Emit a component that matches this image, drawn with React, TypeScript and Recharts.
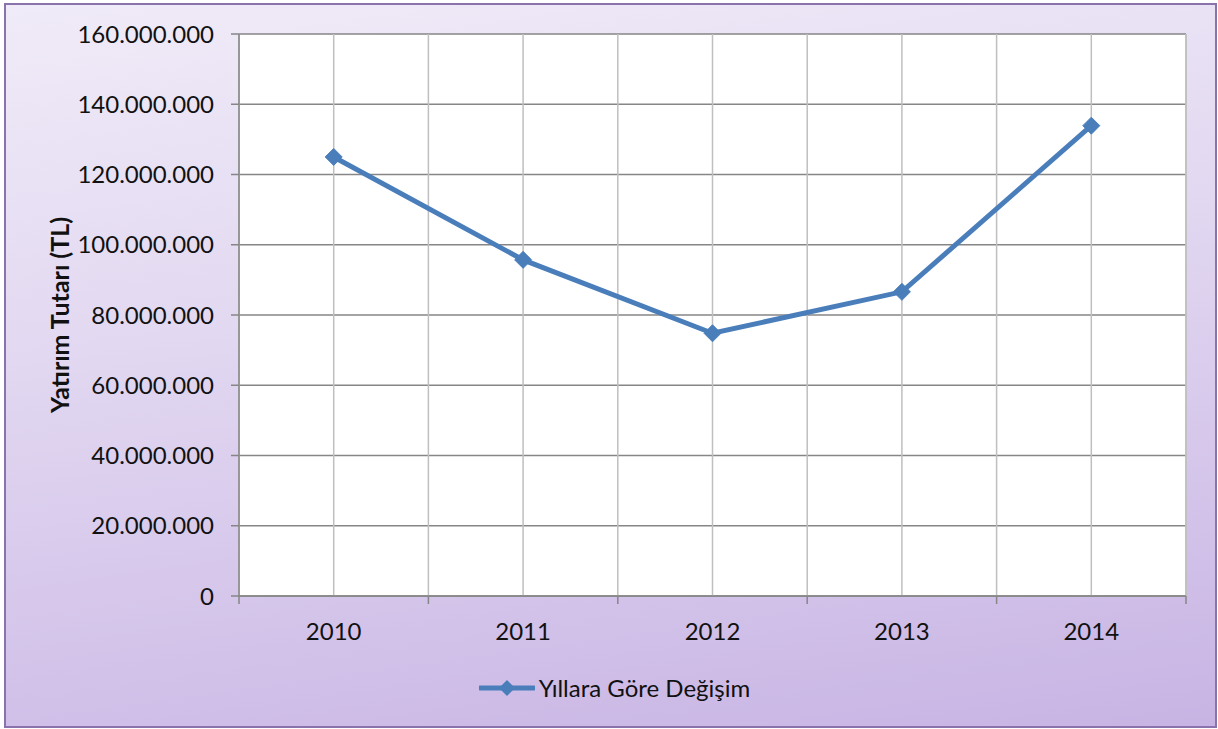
import React from 'react';
import { LineChart, Line, XAxis, YAxis, CartesianGrid, Legend } from 'recharts';

const years = ['2010', '2011', '2012', '2013', '2014'];
const values = [125000000, 95700000, 74800000, 86600000, 133900000];
const yTicks = [0, 20000000, 40000000, 60000000, 80000000, 100000000, 120000000, 140000000, 160000000];
const seriesName = 'Yıllara Göre Değişim';
const yAxisTitle = 'Yatırım Tutarı (TL)';

const data = years.map((y, i) => ({ year: y, value: values[i] }));

const fmt = (v: number) => String(v).replace(/\B(?=(\d{3})+(?!\d))/g, '.');

const FONT = 'Lato, "Open Sans", sans-serif';
const BLUE = '#4a7ebb';
const TEXT = '#111111';
const AXIS = '#868686';

const diamondPoints = (cx: number, cy: number, r: number) =>
  `${cx},${cy - r} ${cx + r},${cy} ${cx},${cy + r} ${cx - r},${cy}`;

const renderDot = (props: any) => {
  const { cx, cy, index } = props;
  if (cx == null || cy == null) return <g key={`d-${index}`} />;
  return <polygon key={`d-${index}`} points={diamondPoints(cx, cy, 8.5)} fill={BLUE} stroke={BLUE} strokeWidth={1} />;
};

const XTick = (props: any) => {
  const { x, y, payload, index, visibleTicksCount } = props;
  const half = payload && payload.offset ? payload.offset : 0;
  const axisY = y - 27;
  const last = index === (visibleTicksCount || years.length) - 1;
  return (
    <g>
      <line x1={x - half} y1={axisY} x2={x - half} y2={axisY + 8} stroke={AXIS} strokeWidth={1.5} />
      {last && <line x1={x + half} y1={axisY} x2={x + half} y2={axisY + 8} stroke={AXIS} strokeWidth={1.5} />}
      <text x={x} y={y} dy="0.71em" textAnchor="middle" fill={TEXT} fontSize={24} fontFamily={FONT}>
        {payload.value}
      </text>
    </g>
  );
};

const YLabel = (props: any) => {
  const vb = props.viewBox || { x: 0, y: 0, width: 0, height: 0 };
  const x = vb.x + 59;
  const y = vb.y + vb.height / 2;
  return (
    <text
      x={x}
      y={y}
      transform={`rotate(-90, ${x}, ${y})`}
      textAnchor="middle"
      dominantBaseline="central"
      fontFamily={FONT}
      fontWeight={700}
      fontSize={25}
      fill={TEXT}
    >
      {yAxisTitle}
    </text>
  );
};

const LegendContent = (props: any) => {
  const item = props.payload && props.payload[0];
  const name = item ? item.value : seriesName;
  return (
    <div style={{ display: 'flex', justifyContent: 'center', alignItems: 'center', width: '100%', paddingLeft: 11, boxSizing: 'border-box' }}>
      <svg width={56} height={20} style={{ display: 'block' }}>
        <line x1={1} y1={10} x2={55} y2={10} stroke={BLUE} strokeWidth={5} strokeLinecap="round" />
        <polygon points={diamondPoints(28, 10, 8)} fill={BLUE} />
      </svg>
      <span style={{ marginLeft: 4, fontFamily: FONT, fontSize: 24, color: TEXT, lineHeight: '28px' }}>{name}</span>
    </div>
  );
};

const boundaryLines = (args: any) => {
  const off = args.offset || {};
  const left = off.left || 0;
  const width = off.width || 0;
  return years.map((_, i) => left + ((i + 1) * width) / years.length);
};

export default function App() {
  return (
    <div style={{ position: 'absolute', left: 0, top: 0, width: 1218, height: 729 }}>
      <div
        style={{
          position: 'absolute',
          left: 4,
          top: 3,
          width: 1213,
          height: 725,
          boxSizing: 'border-box',
          border: '2px solid #8a73ad',
          background: 'linear-gradient(172deg, #f0ebf8 0%, #e2d8f1 40%, #c8b4e4 100%)',
        }}
      />
      <div style={{ position: 'absolute', left: 0, top: 0 }}>
        <LineChart width={1218} height={729} data={data} margin={{ top: 34, right: 32, bottom: 93, left: 0 }}>
          <CartesianGrid horizontal={true} vertical={false} stroke={AXIS} strokeWidth={1.5} fill="#ffffff" />
          <CartesianGrid horizontal={false} vertical={true} stroke="#bfbfbf" strokeWidth={1.5} />
          <CartesianGrid horizontal={false} vertical={true} stroke="#bfbfbf" strokeWidth={1.5} verticalCoordinatesGenerator={boundaryLines} />
          <XAxis
            dataKey="year"
            scale="band"
            height={40}
            tickLine={false}
            axisLine={{ stroke: AXIS, strokeWidth: 1.5 }}
            tickSize={0}
            tickMargin={27}
            interval={0}
            tick={<XTick />}
          />
          <YAxis
            width={239}
            domain={[0, 160000000]}
            ticks={yTicks}
            interval={0}
            tickFormatter={fmt}
            tickSize={8}
            tickMargin={17}
            stroke={AXIS}
            strokeWidth={1.5}
            tick={{ fill: TEXT, fontSize: 24, fontFamily: FONT }}
            label={{ content: YLabel } as any}
          />
          <Legend
            content={LegendContent}
            wrapperStyle={{ position: 'absolute', left: 0, top: 674, width: 1218, height: 0 }}
          />
          <Line
            dataKey="value"
            name={seriesName}
            stroke={BLUE}
            strokeWidth={5}
            dot={renderDot}
            activeDot={false}
            isAnimationActive={false}
          />
        </LineChart>
      </div>
    </div>
  );
}
